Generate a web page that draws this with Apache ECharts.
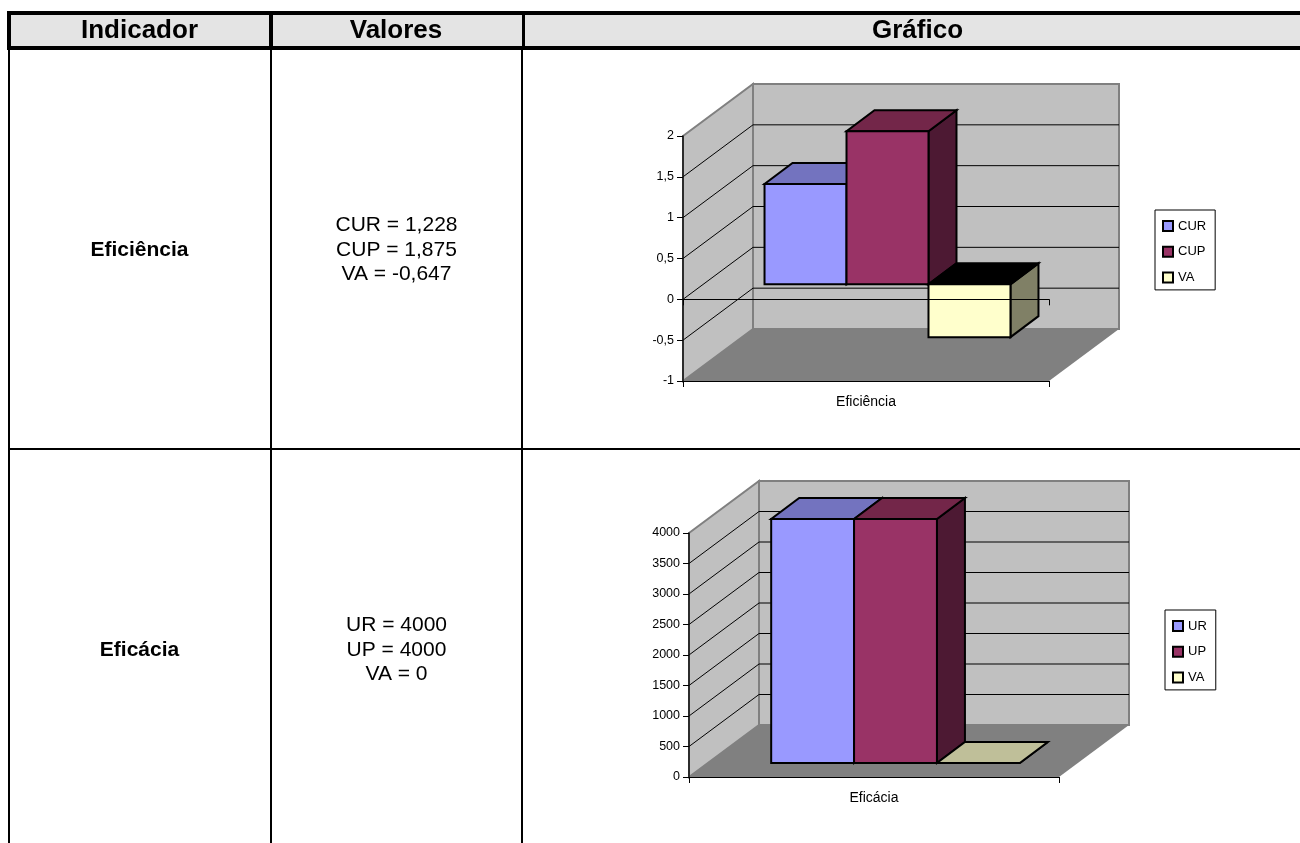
<!DOCTYPE html>
<html>
<head>
<meta charset="utf-8">
<style>html,body{margin:0;padding:0;background:#fff}#main{width:1300px;height:843px}</style>
<script src="https://cdn.jsdelivr.net/npm/echarts@6/dist/echarts.min.js"></script>
</head>
<body>
<div id="main"></div>
<script>
// Indicator table data
const headers = ['Indicador', 'Valores', 'Gráfico'];

const efficiencyCategory = ['Eficiência'];
const efficiencyNames = ['CUR', 'CUP', 'VA'];
const efficiencyValues = [1.228, 1.875, -0.647];
const efficiencyTicks = [-1, -0.5, 0, 0.5, 1, 1.5, 2];

const efficacyCategory = ['Eficácia'];
const efficacyNames = ['UR', 'UP', 'VA'];
const efficacyValues = [4000, 4000, 0];
const efficacyTicks = [0, 500, 1000, 1500, 2000, 2500, 3000, 3500, 4000];

const FONT = '"Liberation Sans", Arial, sans-serif';

// Face colours of each 3D bar: front, top, side
const palette = [
  { front: '#9999ff', top: '#7373bf', side: '#4d4d80' },
  { front: '#993366', top: '#732649', side: '#4d1933' },
  { front: '#ffffcc', top: '#bfbf99', side: '#808066' }
];

const fmt = v => String(v).replace('.', ',');

// Isometric offset of the whole plot box and of the bars inside it
const WALL_DX = 70, WALL_DY = -52;
const BAR_SHIFT_DX = 21.5;
const BAR_DEPTH_DX = 28, BAR_DEPTH_DY = -21;
const BAR_BAND_SHARE = 0.224;

function poly(points, fill, stroke, lineWidth) {
  return {
    type: 'polygon',
    shape: { points },
    style: { fill, stroke: stroke || 'none', lineWidth: lineWidth || 0, lineJoin: 'miter' }
  };
}
function seg(a, b, stroke, lineWidth) {
  return {
    type: 'line',
    shape: { x1: a[0], y1: a[1], x2: b[0], y2: b[1] },
    style: { stroke, lineWidth }
  };
}

// Walls, floor and gridlines of the 3D box, positioned through the axis scales
function frameRenderer(ticks) {
  return function (params, api) {
    const band = api.size([1, 0])[0];
    const lo = ticks[0], hi = ticks[ticks.length - 1];
    const fb = api.coord([0, lo]), ft = api.coord([0, hi]);
    const xl = fb[0] - band / 2, xr = fb[0] + band / 2;
    const yb = fb[1], yt = ft[1];
    const d = (x, y) => [x + WALL_DX, y + WALL_DY];
    const kids = [];
    // back wall
    kids.push(poly([d(xl, yt), d(xr, yt), d(xr, yb), d(xl, yb)], '#c0c0c0', '#808080', 2));
    // floor
    kids.push(poly([[xl, yb], [xr, yb], d(xr, yb), d(xl, yb)], '#808080'));
    // side wall
    kids.push(poly([[xl, yt], d(xl, yt), d(xl, yb), [xl, yb]], '#c0c0c0', '#808080', 2));
    ticks.slice(1, -1).forEach(t => {
      const y = api.coord([0, t])[1];
      kids.push(seg([xl, y], d(xl, y), '#000', 1));
      kids.push(seg(d(xl, y), d(xr, y), '#000', 1));
    });
    return { type: 'group', children: kids };
  };
}

// One extruded bar; a negative bar shows its dark inner top face
function barRenderer(index, count, shiftY) {
  return function (params, api) {
    const band = api.size([1, 0])[0];
    const v = api.value(1);
    const w = band * BAR_BAND_SHARE;
    const c = api.coord([0, 0]);
    const e = api.coord([0, v]);
    const x0 = c[0] + BAR_SHIFT_DX + (index - count / 2) * w;
    const x1 = x0 + w;
    const y0 = Math.min(c[1], e[1]) + shiftY;
    const y1 = Math.max(c[1], e[1]) + shiftY;
    const d = (x, y) => [x + BAR_DEPTH_DX, y + BAR_DEPTH_DY];
    const col = palette[index];
    const topFill = v < 0 ? '#000' : col.top;
    const lw = 2;
    return {
      type: 'group',
      children: [
        poly([[x1, y0], d(x1, y0), d(x1, y1), [x1, y1]], col.side, '#000', lw),
        poly([[x0, y0], [x1, y0], d(x1, y0), d(x0, y0)], topFill, '#000', lw),
        poly([[x0, y0], [x1, y0], [x1, y1], [x0, y1]], col.front, '#000', lw)
      ]
    };
  };
}

function chartParts(grid, cfg) {
  const xAxes = [{
    type: 'category', gridIndex: grid, data: cfg.category, z: 10,
    position: 'bottom',
    axisLine: { onZero: false, lineStyle: { color: '#000', width: 1 } },
    axisTick: { show: true, length: 6, lineStyle: { color: '#000', width: 1 } },
    axisLabel: { fontFamily: FONT, fontSize: 14, color: '#000', margin: 14 },
    splitLine: { show: false }
  }];
  if (cfg.ticks[0] < 0) {
    // the category axis also crosses the value axis at zero
    xAxes.push({
      type: 'category', gridIndex: grid, data: cfg.category, z: 10,
      position: 'bottom',
      axisLine: { onZero: true, lineStyle: { color: '#000', width: 1 } },
      axisTick: { show: true, length: 6, lineStyle: { color: '#000', width: 1 } },
      axisLabel: { show: false },
      splitLine: { show: false }
    });
  }
  const yAxis = {
    type: 'value', gridIndex: grid, z: 10,
    min: cfg.ticks[0], max: cfg.ticks[cfg.ticks.length - 1],
    interval: cfg.ticks[1] - cfg.ticks[0],
    axisLine: { show: true, onZero: false, lineStyle: { color: '#111', width: 1.5 } },
    axisTick: { show: true, length: 6, lineStyle: { color: '#000', width: 1 } },
    axisLabel: { fontFamily: FONT, fontSize: 12.5, color: '#000', margin: 9, formatter: fmt },
    splitLine: { show: false }
  };
  return { xAxes, yAxis };
}

const efficiency = {
  category: efficiencyCategory, names: efficiencyNames, values: efficiencyValues, ticks: efficiencyTicks, shiftY: -15,
  grid: { left: 683, top: 136, width: 366, height: 245 },
  legend: { left: 1155, top: 210, padding: [9.5, 9, 6, 7] }
};
const efficacy = {
  category: efficacyCategory, names: efficacyNames, values: efficacyValues, ticks: efficacyTicks, shiftY: -14,
  grid: { left: 689, top: 533, width: 370, height: 244 },
  legend: { left: 1165, top: 610, padding: [9.5, 9, 6, 7] }
};

const option = {
  animation: false,
  backgroundColor: '#fff',
  grid: [], xAxis: [], yAxis: [], series: [], legend: [], graphic: []
};

[efficiency, efficacy].forEach((cfg, g) => {
  const parts = chartParts(g, cfg);
  option.grid.push(cfg.grid);
  const xIndex = option.xAxis.length;
  option.xAxis.push(...parts.xAxes);
  option.yAxis.push(parts.yAxis);
  option.series.push({
    type: 'custom', name: 'frame' + g, xAxisIndex: xIndex, yAxisIndex: g, z: 1, silent: true,
    renderItem: frameRenderer(cfg.ticks), data: [[0, cfg.ticks[0]]], encode: { x: 0, y: 1 }
  });
  cfg.names.forEach((name, i) => {
    option.series.push({
      type: 'custom', name, xAxisIndex: xIndex, yAxisIndex: g, z: 2 + i, silent: true,
      itemStyle: { color: palette[i].front },
      renderItem: barRenderer(i, cfg.names.length, cfg.shiftY),
      data: [[0, cfg.values[i]]], encode: { x: 0, y: 1 }
    });
  });
  option.legend.push(Object.assign({
    orient: 'vertical', data: cfg.names, selectedMode: false,
    itemWidth: 10, itemHeight: 10, itemGap: 12.7, icon: 'rect',
    itemStyle: { borderColor: '#000', borderWidth: 2 },
    textStyle: { fontFamily: FONT, fontSize: 13, color: '#000', padding: [0, 0, 0, 0] },
    backgroundColor: '#fff', borderColor: '#000', borderWidth: 1, borderRadius: 0
  }, cfg.legend));
});

// Table rules and cell text
const W = 1300, H = 843;
const rect = (x, y, w, h, fill) => ({ type: 'rect', z: -10, silent: true, shape: { x, y, width: w, height: h }, style: { fill } });
const label = (x, y, text, size, weight) => ({
  type: 'text', z: 50, silent: true, x, y,
  style: { text, fontFamily: FONT, fontSize: size, fontWeight: weight || 'normal', fill: '#000', align: 'center', verticalAlign: 'middle' }
});
option.graphic = [
  rect(9, 13, W, 35, '#e4e4e4'),
  rect(7, 11, W, 4, '#000'), rect(7, 46, W, 4, '#000'),
  rect(7, 11, 4, 39, '#000'), rect(269, 11, 4, 39, '#000'), rect(522, 11, 3, 39, '#000'),
  rect(8, 50, 2, H, '#000'), rect(270, 50, 2, H, '#000'), rect(521, 50, 2, H, '#000'),
  rect(8, 448, W, 2, '#000'),
  label(139.5, 31, headers[0], 26, 'bold'),
  label(396, 31, headers[1], 26, 'bold'),
  label(917.5, 31, headers[2], 26, 'bold'),
  label(139.5, 250, efficiencyCategory[0], 21, 'bold'),
  label(139.5, 650, efficacyCategory[0], 21, 'bold')
];
efficiencyNames.forEach((n, i) => option.graphic.push(label(396.5, 225.5 + i * 24.5, n + ' = ' + fmt(efficiencyValues[i]), 21)));
efficacyNames.forEach((n, i) => option.graphic.push(label(396.5, 625.5 + i * 24.5, n + ' = ' + fmt(efficacyValues[i]), 21)));

const chart = echarts.init(document.getElementById('main'), null, { renderer: 'canvas' });
chart.setOption(option);
</script>
</body>
</html>
